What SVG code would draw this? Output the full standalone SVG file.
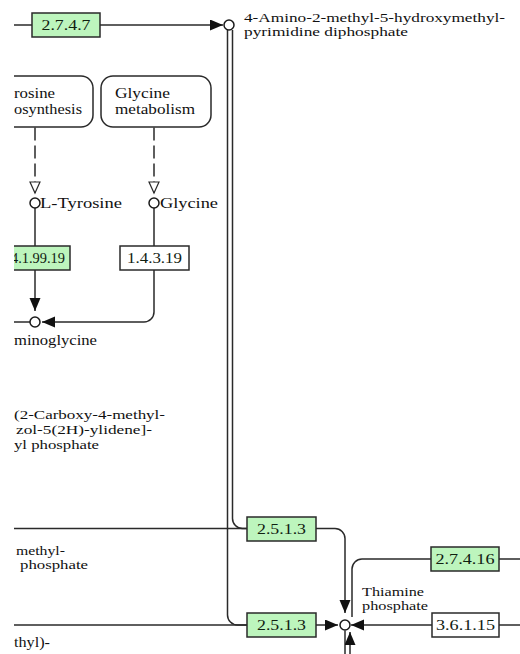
<svg xmlns="http://www.w3.org/2000/svg" width="520" height="654" viewBox="0 0 520 654">
<style>
.ln{fill:none;stroke:#2a2a2a;stroke-width:1.5}
.dash{fill:none;stroke:#2a2a2a;stroke-width:1.5;stroke-dasharray:13 5}
.ec{stroke:#2a2a2a;stroke-width:1.5}
.gr{fill:#bdf5bd}
.wh{fill:#ffffff}
.map{fill:#ffffff;stroke:#2a2a2a;stroke-width:1.5}
.cpd{fill:#ffffff;stroke:#1a1a1a;stroke-width:1.5}
.t{font-family:"Liberation Serif","Times New Roman",serif;font-size:14px;fill:#111}
.s{font-size:12.5px}
.et{font-family:"Liberation Serif","Times New Roman",serif;font-size:15px;fill:#102010;text-anchor:middle}
</style>
<defs>
<clipPath id="clip"><rect x="14" y="0" width="506" height="654"/></clipPath>
<marker id="arr" markerUnits="userSpaceOnUse" markerWidth="14" markerHeight="12" refX="13" refY="5.5" orient="auto">
<path d="M0,0 L13,5.5 L0,11 Z" fill="#111"/>
</marker>
<marker id="open" markerUnits="userSpaceOnUse" markerWidth="14" markerHeight="14" refX="12" refY="6" orient="auto">
<path d="M1,1 L12,6 L1,11 Z" fill="#fff" stroke="#2a2a2a" stroke-width="1.2"/>
</marker>
</defs>
<rect x="0" y="0" width="520" height="654" fill="#ffffff"/>
<g clip-path="url(#clip)">
<g id="connectors">
<path class="ln" d="M14,25 H223" marker-end="url(#arr)"/>
<path class="dash" d="M35,127.5 V193" marker-end="url(#open)"/>
<path class="dash" d="M154,127.5 V193" marker-end="url(#open)"/>
<path class="ln" d="M35,208 V311" marker-end="url(#arr)"/>
<path class="ln" d="M154,208 V312 A10,10 0 0 1 144,322 H42" marker-end="url(#arr)"/>
<path class="ln" d="M14,322 H30"/>
<path class="ln" d="M227.5,30 V615 A10,10 0 0 0 237.5,625 H247"/>
<path class="ln" d="M232.5,30 V518.5 A10,10 0 0 0 242.5,528.5 H247"/>
<path class="ln" d="M14,528.5 H335 A10,10 0 0 1 345,538.5 V613" marker-end="url(#arr)"/>
<path class="ln" d="M14,625 H338" marker-end="url(#arr)"/>
<path class="ln" d="M352,617 V569 A10,10 0 0 1 362,559 H520"/>
<path class="ln" d="M520,625 H351" marker-end="url(#arr)"/>
<path class="ln" d="M345,630.5 V654"/>
<path class="ln" d="M350,654 V632" marker-end="url(#arr)"/>
</g>
<g id="ec-2.7.4.7"><rect class="ec gr" x="32" y="13" width="68" height="24"/><text class="et" x="66" y="30" textLength="49" lengthAdjust="spacingAndGlyphs">2.7.4.7</text></g>
<g id="cpd-ampp"><circle class="cpd" cx="229" cy="25" r="5"/>
<text class="t s" x="244" y="22" textLength="261" lengthAdjust="spacingAndGlyphs">4-Amino-2-methyl-5-hydroxymethyl-</text>
<text class="t s" x="244" y="36" textLength="164" lengthAdjust="spacingAndGlyphs">pyrimidine diphosphate</text></g>
<g id="map-tyrosine"><rect class="map" x="-17" y="76" width="110" height="51" rx="12"/>
<text class="t" x="14" y="98" textLength="41" lengthAdjust="spacingAndGlyphs">rosine</text>
<text class="t" x="14" y="114" textLength="68" lengthAdjust="spacingAndGlyphs">osynthesis</text></g>
<g id="map-glycine"><rect class="map" x="101" y="76" width="110" height="51" rx="12"/>
<text class="t" x="115" y="98" textLength="55" lengthAdjust="spacingAndGlyphs">Glycine</text>
<text class="t" x="115" y="114" textLength="80" lengthAdjust="spacingAndGlyphs">metabolism</text></g>
<g id="cpd-tyrosine"><circle class="cpd" cx="35" cy="203" r="5"/>
<text class="t" x="40" y="208" textLength="82" lengthAdjust="spacingAndGlyphs">L-Tyrosine</text></g>
<g id="cpd-glycine"><circle class="cpd" cx="154" cy="203" r="5"/>
<text class="t" x="160" y="208" textLength="58" lengthAdjust="spacingAndGlyphs">Glycine</text></g>
<g id="ec-4.1.99.19"><rect class="ec gr" x="2" y="246" width="68" height="24"/><text class="et" x="38" y="263" textLength="54" lengthAdjust="spacingAndGlyphs">4.1.99.19</text></g>
<g id="ec-1.4.3.19"><rect class="ec wh" x="120" y="246" width="69" height="24"/><text class="et" x="154.5" y="263" textLength="55" lengthAdjust="spacingAndGlyphs">1.4.3.19</text></g>
<g id="cpd-iminoglycine"><circle class="cpd" cx="35" cy="322" r="5"/>
<text class="t" x="14" y="345" textLength="83" lengthAdjust="spacingAndGlyphs">minoglycine</text></g>
<g id="cpd-cmtep">
<text class="t s" x="14" y="419" textLength="151" lengthAdjust="spacingAndGlyphs">(2-Carboxy-4-methyl-</text>
<text class="t s" x="16" y="434" textLength="136" lengthAdjust="spacingAndGlyphs">zol-5(2H)-ylidene]-</text>
<text class="t s" x="14" y="449" textLength="85" lengthAdjust="spacingAndGlyphs">yl phosphate</text></g>
<g id="cpd-hmpp"><text class="t s" x="16" y="555" textLength="49" lengthAdjust="spacingAndGlyphs">methyl-</text>
<text class="t s" x="20" y="569" textLength="68" lengthAdjust="spacingAndGlyphs">phosphate</text></g>
<g id="cpd-bottom-left"><text class="t" x="14" y="647" textLength="36" lengthAdjust="spacingAndGlyphs">thyl)-</text></g>
<g id="ec-2.5.1.3-a"><rect class="ec gr" x="247" y="517" width="69" height="24"/><text class="et" x="281.5" y="534" textLength="49" lengthAdjust="spacingAndGlyphs">2.5.1.3</text></g>
<g id="ec-2.5.1.3-b"><rect class="ec gr" x="247" y="613" width="69" height="24"/><text class="et" x="281.5" y="630" textLength="49" lengthAdjust="spacingAndGlyphs">2.5.1.3</text></g>
<g id="ec-2.7.4.16"><rect class="ec gr" x="431" y="547" width="68" height="24"/><text class="et" x="465" y="564" textLength="59" lengthAdjust="spacingAndGlyphs">2.7.4.16</text></g>
<g id="ec-3.6.1.15"><rect class="ec wh" x="432" y="613" width="67" height="24"/><text class="et" x="465.5" y="630" textLength="59" lengthAdjust="spacingAndGlyphs">3.6.1.15</text></g>
<g id="cpd-thiamine-phosphate"><circle class="cpd" cx="345" cy="625" r="5"/>
<text class="t s" x="362" y="596" textLength="62" lengthAdjust="spacingAndGlyphs">Thiamine</text>
<text class="t s" x="362" y="610" textLength="66" lengthAdjust="spacingAndGlyphs">phosphate</text></g>
</g>
</svg>
